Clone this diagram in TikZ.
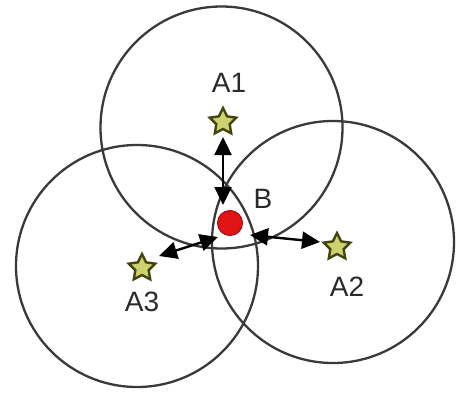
\documentclass[tikz,border=0pt]{standalone}
\usepackage{fontspec}
\setmainfont{Liberation Sans}
\usetikzlibrary{shapes.geometric,arrows.meta}
\definecolor{ringgray}{HTML}{3A3A3A}
\definecolor{starfill}{HTML}{CDD26E}
\definecolor{stardraw}{HTML}{44440F}
\definecolor{dotred}{HTML}{E01414}
\definecolor{txtgray}{HTML}{2A2A2A}
\tikzset{
  ring/.style={draw=ringgray, line width=2.3pt, circle, inner sep=0pt, minimum size=242pt},
  anchorstar/.style={star, star points=5, star point ratio=2.0, minimum size=28pt, inner sep=0pt,
     fill=starfill, draw=stardraw, line width=2.4pt},
  bdot/.style={circle, fill=dotred, draw=dotred!70!black, line width=1pt, minimum size=25pt, inner sep=0pt},
  lbl/.style={font=\fontsize{28}{28}\selectfont, text=txtgray, inner sep=0pt},
  link/.style={draw=black, line width=2.4pt, {Triangle[length=18pt,width=17pt]}-{Triangle[length=18pt,width=17pt]}}
}
\begin{document}
\begin{tikzpicture}[x=1pt,y=-1pt]
\useasboundingbox (0,0) rectangle (456,394);
\fill[white] (0,0) rectangle (456,394);
% circles
\node[ring] (c1) at (221.5,127.5) {};
\node[ring] (c2) at (333,242) {};
\node[ring] (c3) at (137,266) {};
% stars
\node[anchorstar] (A1) at (223,122) {};
\node[anchorstar] (A2) at (337,247) {};
\node[anchorstar] (A3) at (142,268) {};
% arrow end points
\coordinate (b1) at (223,205);
\coordinate (a1) at (223,137);
\coordinate (b2) at (250,235);
\coordinate (a2) at (320,242);
\coordinate (b3) at (218,237);
\coordinate (a3) at (159,256);
\draw[link] (b1) -- (a1);
\draw[link] (b2) -- (a2);
\draw[link] (b3) -- (a3);
% B dot
\node[bdot] (B) at (230,223) {};
% labels
\node[lbl] (tA1) at (229,83) {A1};
\node[lbl] (tA2) at (347,287) {A2};
\node[lbl] (tA3) at (142,302) {A3};
\node[lbl] (tB) at (263,199) {B};
\end{tikzpicture}
\end{document}
